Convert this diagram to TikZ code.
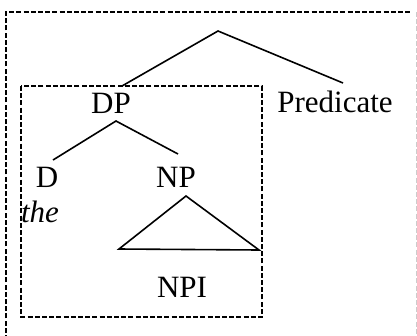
\documentclass[tikz,border=0pt]{standalone}
\usepackage{fontspec}
\setmainfont{Liberation Serif}
\begin{document}
\begin{tikzpicture}[x=1pt,y=-1pt,
  lbl/.style={anchor=base,inner sep=0pt,font=\fontsize{31}{31}\selectfont},
  branch/.style={line width=1.6pt},
  boxline/.style={line width=1.5pt,dash pattern=on 5pt off 2.2pt}]
\useasboundingbox (0,0) rectangle (417,335);
% outer box
\coordinate (ob1) at (6,340);
\coordinate (ob2) at (6,12);
\coordinate (ob3) at (412,12);
\coordinate (ob4) at (416,12);
\coordinate (ob5) at (416,340);
\draw[boxline] (ob1) -- (ob2) -- (ob3);
\draw[boxline,black!20,line width=0.8pt] (ob4) -- (ob5);
% inner box
\coordinate (ib1) at (21,86);
\coordinate (ib2) at (262,317);
\draw[boxline] (ib1) rectangle (ib2);
% labels
\node[lbl] (dp) at (111,113) {DP};
\node[lbl] (pred) at (335,112) {Predicate};
\node[lbl] (d) at (47,187) {D};
\node[lbl] (np) at (176,187) {NP};
\node[lbl,font=\fontsize{31}{31}\selectfont\itshape] (the) at (40,222) {the};
\node[lbl] (npi) at (182,297) {NPI};
% tree
\coordinate (top) at (218,31);
\coordinate (dptop) at (122,86);
\coordinate (predtop) at (343,83);
\draw[branch] (dptop) -- (top) -- (predtop);
\coordinate (dpbot) at (116,121);
\coordinate (dtop) at (53,160);
\coordinate (nptop) at (178,154);
\draw[branch] (dtop) -- (dpbot) -- (nptop);
\coordinate (ta) at (186,196);
\coordinate (tl) at (119,249);
\coordinate (tr) at (259,250);
\draw[branch,line join=miter] (ta) -- (tl) -- (tr) -- cycle;
\end{tikzpicture}
\end{document}
